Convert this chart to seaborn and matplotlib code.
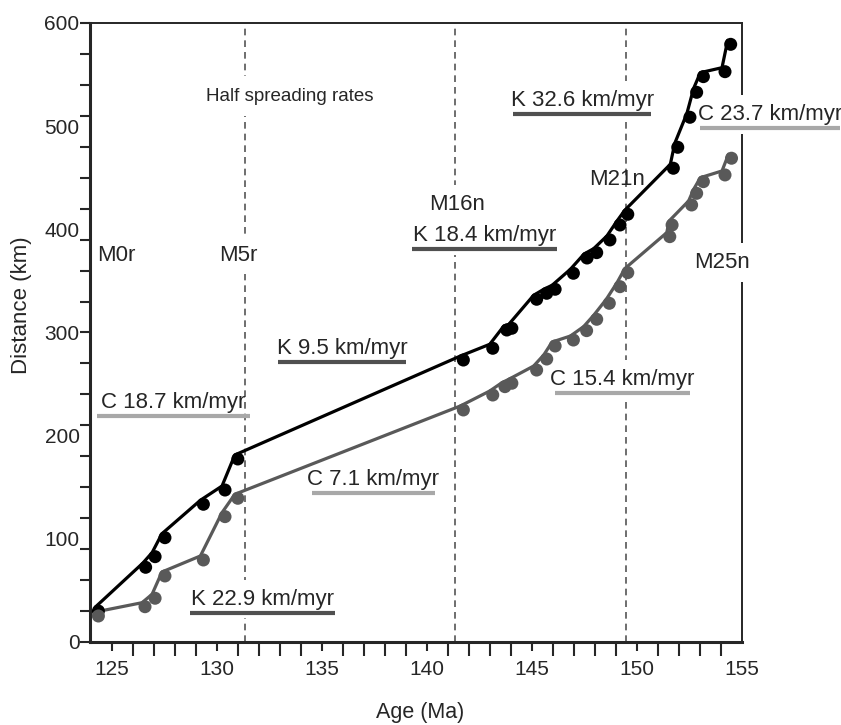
import numpy as np
import pandas as pd
import seaborn as sns
import matplotlib.pyplot as plt
from matplotlib.transforms import ScaledTranslation

# profile K (black) - age (Ma) vs distance (km)
age_k = [124.35, 126.60, 127.05, 127.52, 129.35, 130.38, 130.99, 141.73, 143.13,
         143.80, 144.04, 145.22, 145.70, 146.10, 146.97, 147.62, 148.08, 148.71,
         149.19, 149.56, 151.73, 151.94, 152.52, 152.84, 153.16, 154.19, 154.46]
dist_k = [30.0, 72.4, 82.7, 101.1, 133.5, 147.3, 177.4, 273.3, 284.7,
          302.4, 304.1, 332.2, 338.0, 341.9, 357.4, 372.2, 377.4, 389.7,
          404.2, 414.6, 459.2, 479.5, 508.6, 532.8, 548.0, 552.8, 579.3]

# profile C (gray)
age_c = [124.35, 126.57, 127.05, 127.52, 129.35, 130.38, 130.99, 141.73, 143.13,
         143.71, 144.04, 145.22, 145.70, 146.10, 146.97, 147.60, 148.08, 148.68,
         149.19, 149.56, 151.56, 151.67, 152.60, 152.84, 153.16, 154.19, 154.50]
dist_c = [25.2, 34.2, 42.4, 64.0, 79.5, 121.5, 139.3, 224.9, 239.4,
          247.5, 250.8, 263.6, 274.3, 286.9, 292.7, 301.8, 312.8, 328.3,
          344.4, 358.0, 392.9, 404.2, 423.6, 434.9, 446.2, 452.7, 468.9]

# dashed isochrons
chron_ages = [131.33, 141.33, 149.46]

# chron labels
chron_names = ['M0r', 'M5r', 'M16n', 'M21n', 'M25n']
chron_x = [125.19, 131.0, 141.45, 149.05, 154.07]
chron_y = [375, 375, 424, 448, 368]
chron_boxed = [False, True, True, False, True]

# half spreading rates
rate_names = ['C 18.7 km/myr', 'K 22.9 km/myr', 'K 9.5 km/myr', 'C 7.1 km/myr',
              'K 18.4 km/myr', 'C 15.4 km/myr', 'K 32.6 km/myr', 'C 23.7 km/myr']
rate_x0 = [124.29, 128.71, 132.90, 134.52, 139.29, 146.10, 144.10, 153.00]
rate_x1 = [131.57, 135.62, 139.00, 140.38, 146.19, 152.52, 150.67, 159.67]
rate_y = [219.1, 28.1, 271.4, 144.4, 380.9, 241.4, 511.8, 498.2]
rate_boxed = [False, True, False, False, True, True, True, True]

df = pd.DataFrame({
    'age': age_k + age_c,
    'dist': dist_k + dist_c,
    'profile': ['K'] * len(age_k) + ['C'] * len(age_c),
})
pal = {'K': 'black', 'C': '#595959'}

sns.set_style('ticks')
plt.rcParams['font.family'] = ['Liberation Sans', 'DejaVu Sans']

fig = plt.figure(figsize=(8.41, 7.25), dpi=100)
ax = fig.add_axes([0.1070, 0.1145, 0.7753, 0.8538])

sns.lineplot(data=df, x='age', y='dist', hue='profile', palette=pal, sort=False,
             estimator=None, lw=2.3, legend=False, ax=ax, zorder=5)
# lines sit slightly up-left of the dots in the original
shift = ScaledTranslation(-0.03, 0.04, fig.dpi_scale_trans)
for ln in ax.lines:
    ln.set_transform(ax.transData + shift)

sns.scatterplot(data=df, x='age', y='dist', hue='profile', palette=pal, s=88,
                edgecolor='none', legend=False, ax=ax, zorder=6)

for a in chron_ages:
    ax.axvline(a, color='#555555', lw=1.2, dashes=(4, 3), zorder=2)

box = dict(boxstyle='square,pad=0.4', fc='white', ec='none')
for name, x, y, b in zip(chron_names, chron_x, chron_y, chron_boxed):
    ax.text(x, y, name, ha='center', va='center', fontsize=16, zorder=4,
            bbox=box if b else None)

ax.text(133.48, 529, 'Half spreading rates', ha='center', va='center',
        fontsize=13.5, zorder=4, bbox=dict(boxstyle='square,pad=0.6', fc='white', ec='none'))

for name, x0, x1, y, b in zip(rate_names, rate_x0, rate_x1, rate_y, rate_boxed):
    col = '#505050' if name.startswith('K') else '#a8a8a8'
    ax.hlines(y, x0, x1, colors=col, lw=3, zorder=4.5, clip_on=False)
    ax.annotate(name, xy=((x0 + x1) / 2, y), xytext=(0, 10), textcoords='offset points',
                ha='center', va='center', fontsize=16, zorder=4, annotation_clip=False,
                bbox=box if b else None)

ax.set_xlim(123.95, 155.0)
ax.set_ylim(0, 600)

ax.set_xticks(np.arange(125, 156, 5))
ax.set_xticks(np.arange(125, 155, 1), minor=True)
ax.set_yticks(np.arange(0, 601, 100))
ax.set_yticks(np.arange(0, 601, 30), minor=True)
ax.yaxis.remove_overlapping_locs = False

ax.tick_params(axis='x', which='major', length=6.5, width=1.5, pad=6.5,
               labelsize=15, direction='out')
ax.tick_params(axis='x', which='minor', length=10, width=1.5, direction='out')
ax.tick_params(axis='y', which='major', length=0, pad=7.5, labelsize=15)
ax.tick_params(axis='y', which='minor', length=7.2, width=1.5, direction='out')
ax.xaxis.get_major_ticks()[-1].tick1line.set_visible(False)

for side in ['left', 'bottom']:
    ax.spines[side].set_linewidth(2.2)
for side in ['top', 'right']:
    ax.spines[side].set_linewidth(1.4)
    ax.spines[side].set_visible(True)

ax.set_xlabel('Age (Ma)', fontsize=15.5)
ax.set_ylabel('Distance (km)', fontsize=16)
ax.xaxis.set_label_coords(0.506, -0.097)
ax.yaxis.set_label_coords(-0.089, 0.544)

fig.savefig('out.png', dpi=100)
